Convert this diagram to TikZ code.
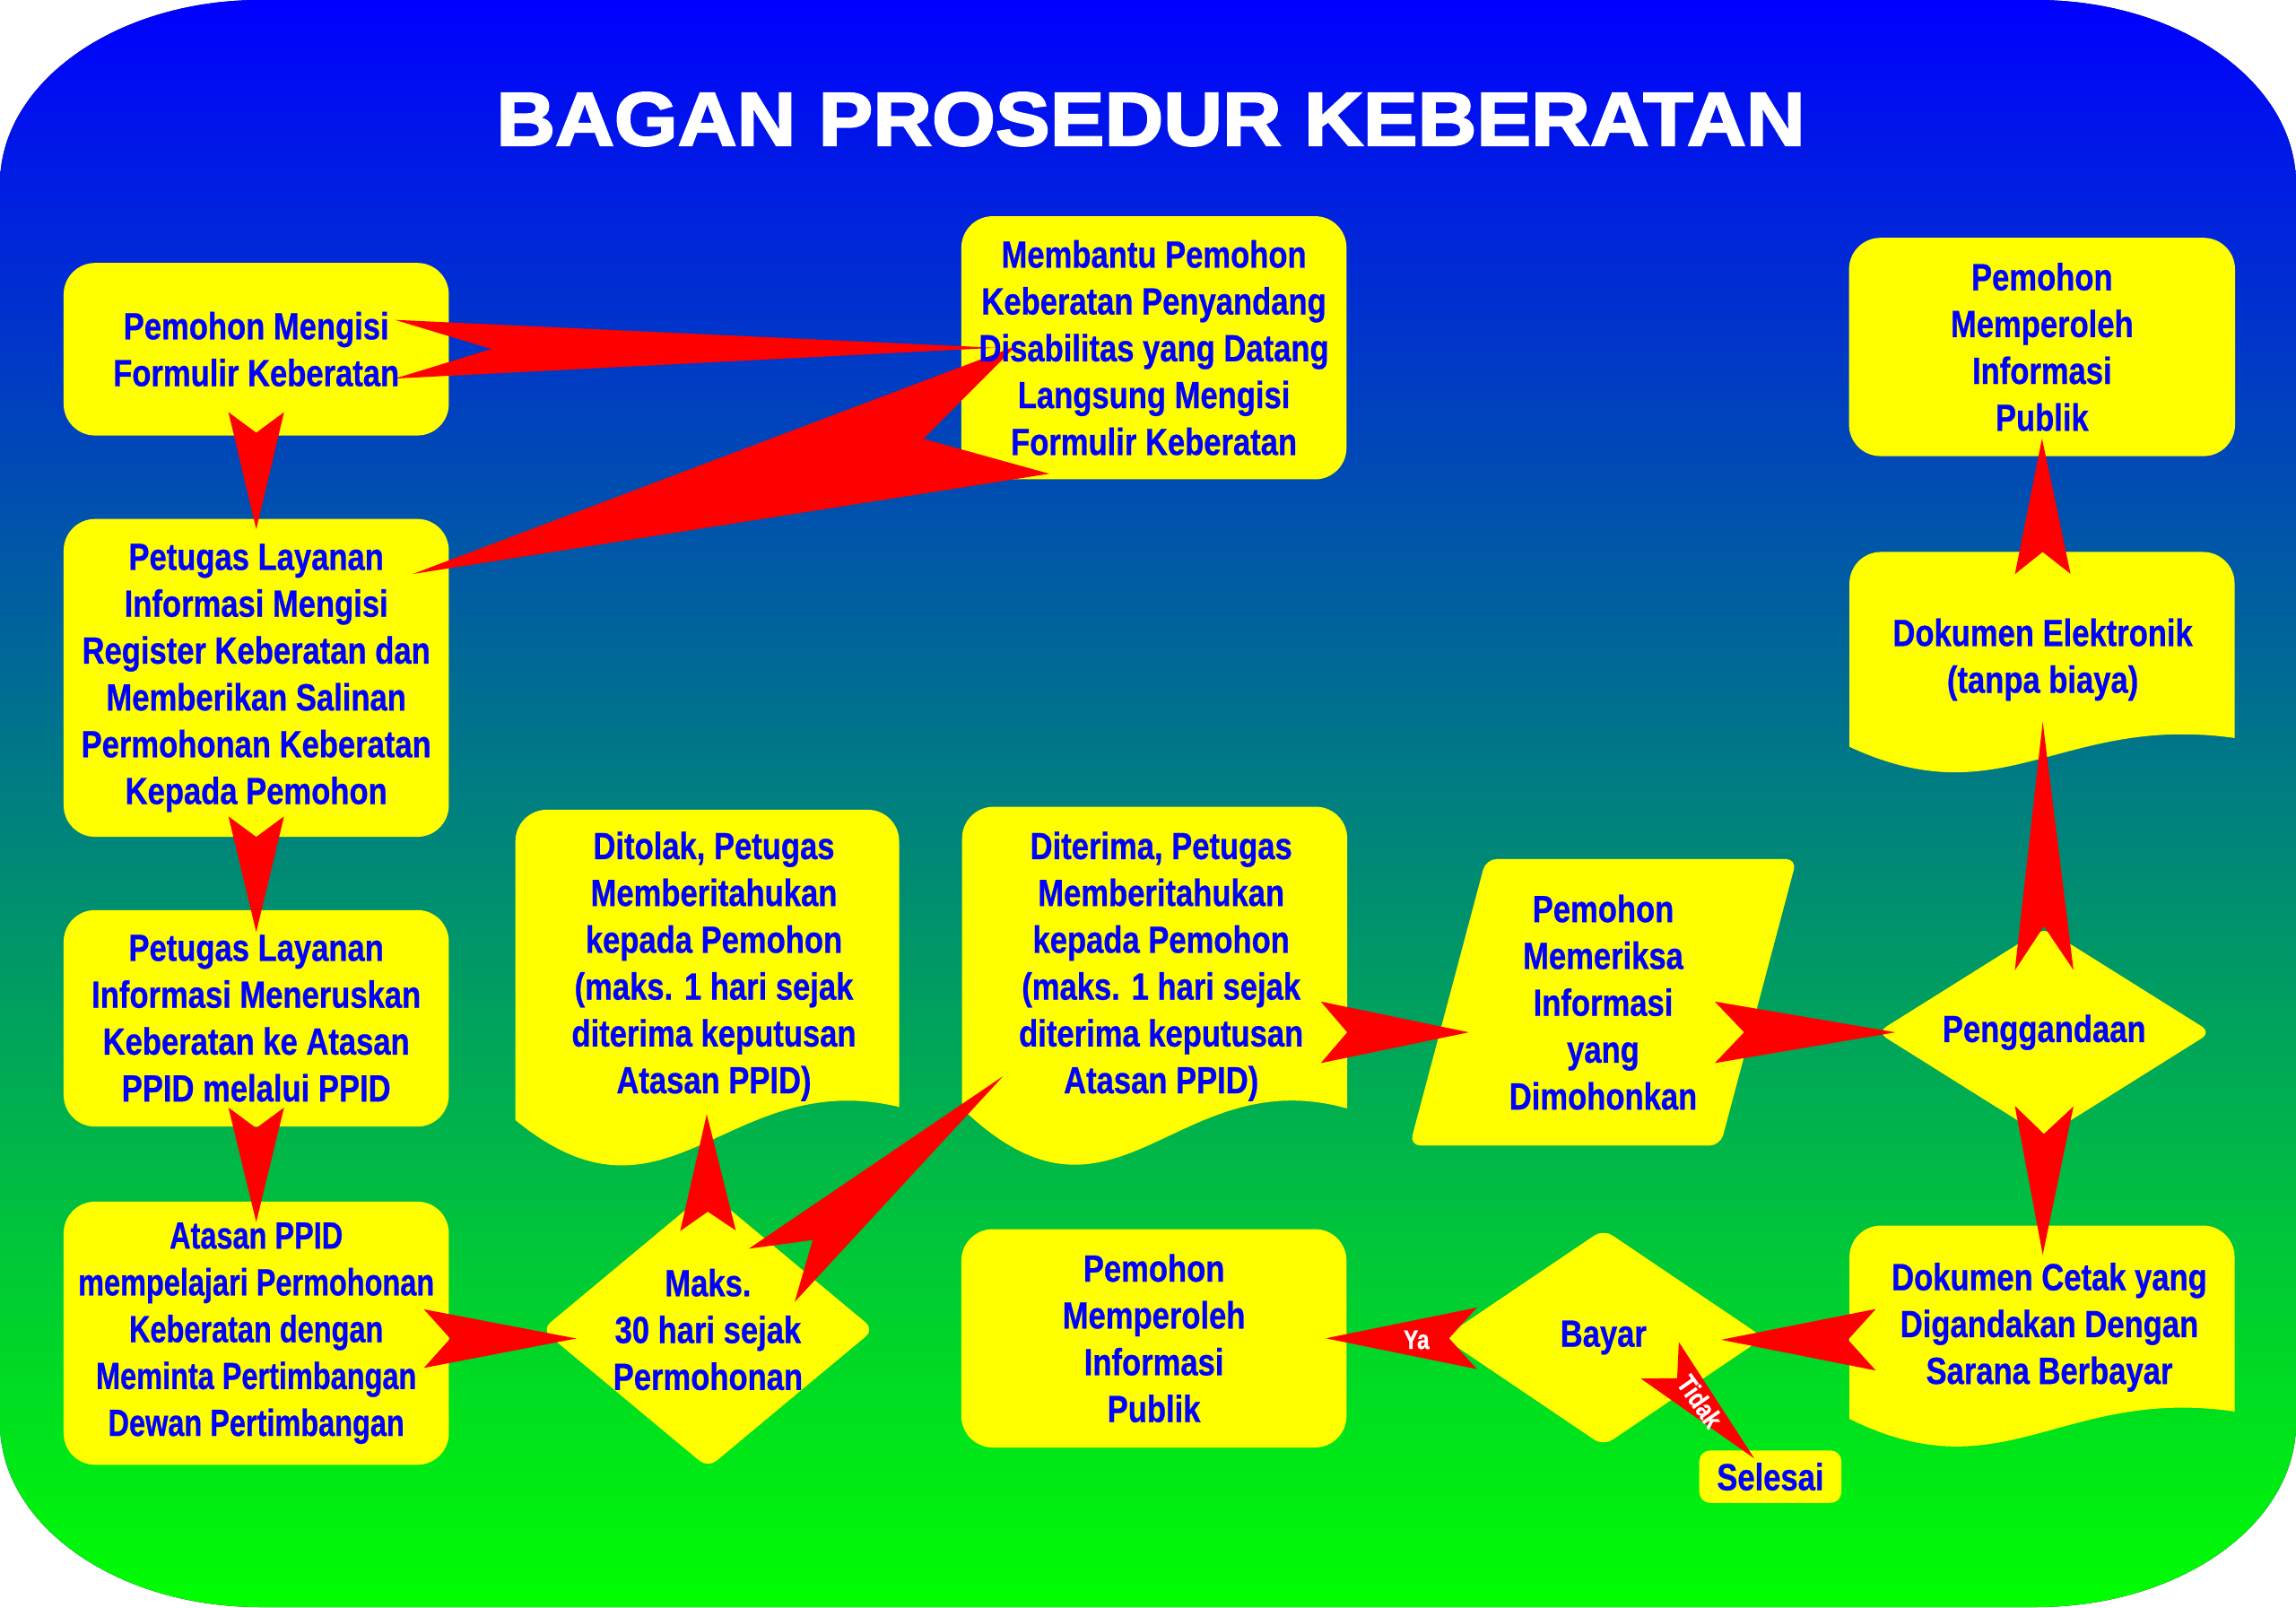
\documentclass[tikz,border=0pt]{standalone}
\usepackage{fontspec}
\setmainfont{Liberation Sans}
\newfontfamily\narrowsans[FakeStretch=0.82,FakeBold=0.6]{Liberation Sans}
\newfontfamily\narrowersans[FakeStretch=0.77,FakeBold=0.6]{Liberation Sans}
\newfontfamily\widesans[FakeStretch=1.08,FakeBold=2.5]{Liberation Sans}
\usetikzlibrary{calc}

\definecolor{bgblue}{RGB}{0,0,255}
\definecolor{bggreen}{RGB}{0,255,0}
\definecolor{boxyellow}{RGB}{255,255,0}
\definecolor{boxblue}{RGB}{0,0,255}
\definecolor{arrowred}{RGB}{255,0,0}

\pgfdeclarelayer{bg}
\pgfdeclarelayer{fills}
\pgfdeclarelayer{arrows}
\pgfsetlayers{bg,fills,arrows,main}

\newcommand\boxfont{\fontsize{12pt}{14.86pt}\selectfont\narrowsans\bfseries}

% tail, tip, half width, notch depth
\newcommand\flowarrow[4]{%
  \coordinate (tl) at (#1);
  \coordinate (tp) at (#2);
  \fill[arrowred] (tp) -- ($(tl)!#3!90:(tp)$) -- ($(tl)!#4!(tp)$) -- ($(tl)!#3!-90:(tp)$) -- cycle;
}

% x1, x2, top, left end, right end, dip, rise
\newcommand\docshape[7]{%
  \fill[boxyellow] (#1,#4) -- (#1,#3-0.35) arc[start angle=180,end angle=90,radius=0.35]
    -- (#2-0.35,#3) arc[start angle=90,end angle=0,radius=0.35] -- (#2,#5)
    .. controls (#1+0.55*#2-0.55*#1,#5+#7) and (#1+0.4*#2-0.4*#1,#4-#6) .. (#1,#4) -- cycle;
}

\begin{document}
\begin{tikzpicture}[
    box/.style={minimum width=4.28cm, inner sep=0pt, align=center, text=boxblue, font=\boxfont},
    txt/.style={inner sep=0pt, align=center, text=boxblue, font=\boxfont},
    yesno/.style={inner sep=0pt, text=white, font=\fontsize{8.5pt}{10pt}\selectfont\narrowsans\bfseries}
]
\useasboundingbox (0,0) rectangle (25.6,17.92);

\begin{pgfonlayer}{bg}
\fill[top color=bgblue, bottom color=bggreen] (0,2.05) -- (0,15.87)
  arc[start angle=180,end angle=90,x radius=2.9,y radius=2.05] -- (22.7,17.92)
  arc[start angle=90,end angle=0,x radius=2.9,y radius=2.05] -- (25.6,2.05)
  arc[start angle=0,end angle=-90,x radius=2.9,y radius=2.05] -- (2.9,0)
  arc[start angle=270,end angle=180,x radius=2.9,y radius=2.05] -- cycle;
\end{pgfonlayer}

\node[anchor=base, text=white, font=\fontsize{24pt}{28pt}\selectfont\widesans\bfseries] (title) at (12.83,16.3) {BAGAN PROSEDUR KEBERATAN};

\node[box, minimum height=1.91cm] (A) at (2.857,14.026) {Pemohon Mengisi\\Formulir Keberatan};
\node[box, minimum height=3.53cm] (B) at (2.857,10.361) {Petugas Layanan\\Informasi Mengisi\\Register Keberatan dan\\Memberikan Salinan\\Permohonan Keberatan\\Kepada Pemohon};
\node[box, minimum height=2.40cm] (C) at (2.857,6.565) {Petugas Layanan\\Informasi Meneruskan\\Keberatan ke Atasan\\PPID melalui PPID};
\node[box, minimum height=2.92cm, font=\boxfont\narrowersans] (D) at (2.857,3.054) {Atasan PPID\\mempelajari Permohonan\\Keberatan dengan\\Meminta Pertimbangan\\Dewan Pertimbangan};
\node[box, minimum height=2.92cm] (E) at (12.866,14.042) {Membantu Pemohon\\Keberatan Penyandang\\Disabilitas yang Datang\\Langsung Mengisi\\Formulir Keberatan};
\node[txt] (F) at (7.96,7.144) {Ditolak, Petugas\\Memberitahukan\\kepada Pemohon\\(maks. 1 hari sejak\\diterima keputusan\\Atasan PPID)};
\node[txt] (G) at (12.947,7.144) {Diterima, Petugas\\Memberitahukan\\kepada Pemohon\\(maks. 1 hari sejak\\diterima keputusan\\Atasan PPID)};
\node[box, minimum width=3.69cm, minimum height=3.07cm] (H) at (7.894,3.095) {Maks.\\30 hari sejak\\Permohonan};
\node[box, minimum width=3.45cm, minimum height=3.18cm] (I) at (17.875,6.744) {Pemohon\\Memeriksa\\Informasi\\yang\\Dimohonkan};
\node[box, minimum width=3.71cm, minimum height=2.32cm] (J) at (22.792,6.409) {Penggandaan};
\node[txt] (K) at (22.776,10.565) {Dokumen Elektronik\\(tanpa biaya)};
\node[box, minimum width=4.29cm, minimum height=2.42cm] (L) at (22.768,14.051) {Pemohon\\Memperoleh\\Informasi\\Publik};
\node[txt] (M) at (22.85,3.12) {Dokumen Cetak yang\\Digandakan Dengan\\Sarana Berbayar};
\node[box, minimum width=3.56cm, minimum height=2.40cm] (N) at (17.878,3.005) {Bayar};
\node[box, minimum height=2.42cm] (O) at (12.866,2.997) {Pemohon\\Memperoleh\\Informasi\\Publik};
\node[box, minimum width=1.57cm, minimum height=0.57cm] (P) at (19.739,1.454) {Selesai};

\begin{pgfonlayer}{fills}
\foreach \n in {A,B,C,D,E,L,O}
  \fill[boxyellow, rounded corners=0.35cm] (\n.south west) rectangle (\n.north east);
\fill[boxyellow, rounded corners=0.12cm] (P.south west) rectangle (P.north east);
\foreach \n in {H,J,N}
  \fill[boxyellow, rounded corners=0.12cm] (\n.north) -- (\n.east) -- (\n.south) -- (\n.west) -- cycle;
\fill[boxyellow, rounded corners=0.12cm] ([xshift=0.425cm]I.north west) -- ([xshift=0.425cm]I.north east)
  -- ([xshift=-0.425cm]I.south east) -- ([xshift=-0.425cm]I.south west) -- cycle;
\docshape{5.747}{10.025}{8.891}{5.43}{5.577}{1.4}{0.46}
\docshape{10.727}{15.021}{8.924}{5.56}{5.56}{1.65}{0.54}
\docshape{20.621}{24.915}{11.765}{9.593}{9.691}{0.8}{0.27}
\docshape{20.621}{24.915}{4.254}{2.099}{2.181}{0.85}{0.28}
\end{pgfonlayer}

\begin{pgfonlayer}{arrows}
\flowarrow{$(A.east)+(-0.6,0)$}{$(E.west)+(0.376,0)$}{0.327cm}{1.078cm}
\flowarrow{$(E)+(-1.355,-0.694)$}{$(B)+(1.747,1.159)$}{0.735cm}{1.257cm}
\flowarrow{$(A.south)+(0,0.26)$}{$(B.north)+(0,-0.114)$}{0.31cm}{0.229cm}
\flowarrow{$(B.south)+(0,0.228)$}{$(C.north)+(0,-0.245)$}{0.31cm}{0.229cm}
\flowarrow{$(C.south)+(0,0.212)$}{$(D.north)+(0,-0.228)$}{0.31cm}{0.229cm}
\flowarrow{$(D.east)+(-0.278,-0.06)$}{$(H.west)+(0.384,-0.1)$}{0.327cm}{0.294cm}
\flowarrow{$(H.north)+(0,-0.44)$}{$(F)+(-0.08,-1.649)$}{0.31cm}{0.212cm}
\flowarrow{$(H)+(0.71,0.604)$}{$(G)+(-1.763,-1.224)$}{0.392cm}{0.604cm}
\flowarrow{$(G)+(1.78,-0.735)$}{$(I)+(-1.499,-0.335)$}{0.343cm}{0.294cm}
\flowarrow{$(I)+(1.244,-0.335)$}{$(J.west)+(0.204,0)$}{0.343cm}{0.327cm}
\flowarrow{$(J.north)+(0,-0.474)$}{$(K)+(0,-0.694)$}{0.327cm}{0.49cm}
\flowarrow{$(K)+(0,0.955)$}{$(L.south)+(0,0.197)$}{0.31cm}{0.245cm}
\flowarrow{$(J.south)+(0,0.344)$}{$(M)+(-0.074,0.808)$}{0.327cm}{0.31cm}
\flowarrow{$(M)+(-1.935,-0.139)$}{$(N.east)+(-0.474,-0.024)$}{0.343cm}{0.31cm}
\flowarrow{$(N.west)+(0.376,-0.008)$}{$(O.east)+(-0.23,0)$}{0.343cm}{0.31cm}
\flowarrow{$(N)+(0.629,-0.253)$}{$(P)+(-0.179,0.204)$}{0.294cm}{0.278cm}
\end{pgfonlayer}

\node[yesno] (ya) at ($(N.west)+(-0.298,-0.025)$) {Ya};
\node[yesno, rotate=-55] (tidak) at ($(N)+(1.077,-0.71)$) {Tidak};
\end{tikzpicture}
\end{document}
